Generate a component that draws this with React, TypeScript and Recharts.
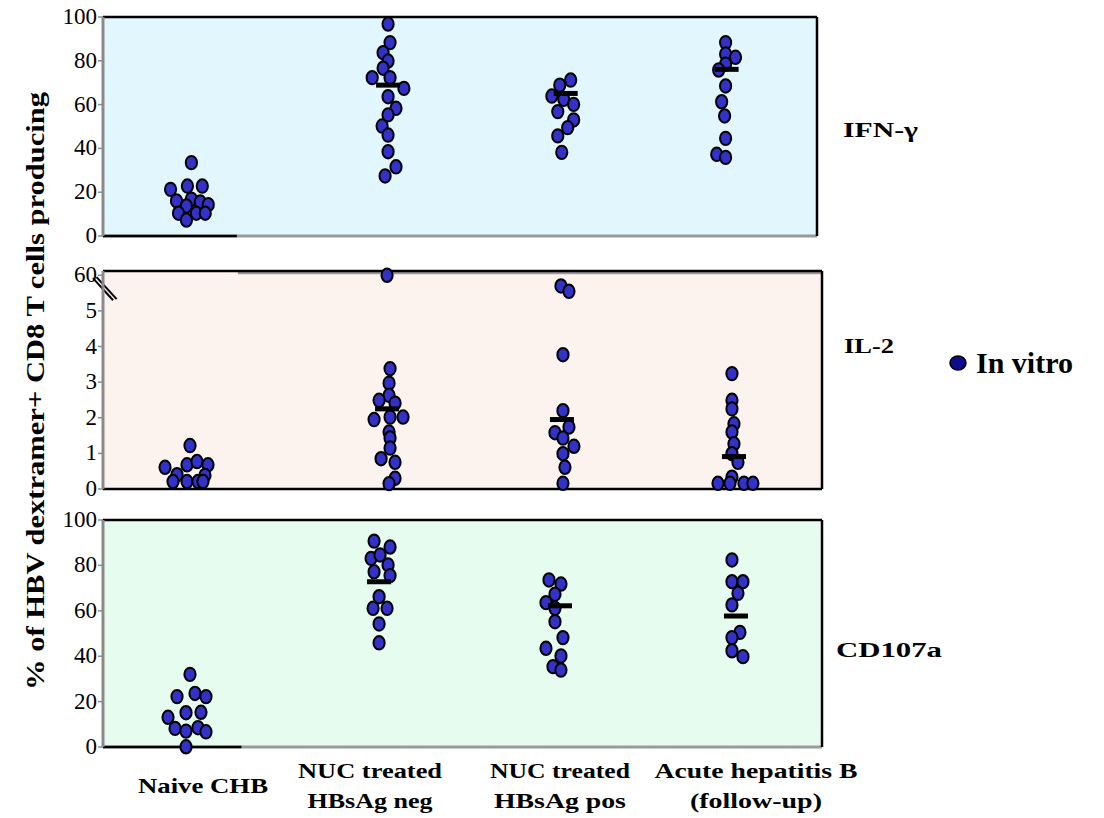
import React from 'react';
import { ScatterChart, Scatter, XAxis, YAxis, CartesianGrid, ReferenceLine } from 'recharts';

// categories (x positions in category units; the groups are not evenly spaced in the original)
const groupLabels = [['Naive CHB'], ['NUC treated', 'HBsAg neg'], ['NUC treated', 'HBsAg pos'], ['Acute  hepatitis B', '(follow-up)']];
const groupX = [0.484, 1.597, 2.57, 3.488];

// each point: [value, jitter] ; jitter is in 1/180 of a category
const ifnNaive = [[33.5, 2], [21.3, -19], [22.8, -2], [22.8, 13], [16.0, -13], [16.8, 2], [15.5, 11], [14.3, 19], [13.7, -3], [10.4, -11], [10.4, 7], [10.4, 16], [7.3, -3]];
const ifnNucNeg = [[96.8, 0], [88.3, 2], [83.7, -5], [79.9, 0], [76.6, -5], [72.3, -16], [72.3, 2], [67.4, 16], [63.6, 0], [58.3, 8], [55.3, 0], [50.2, -6], [46.1, 0], [38.5, 0], [31.6, 8], [27.4, -3]];
const ifnNucPos = [[71.2, 9], [68.9, -2], [63.9, -10], [62.4, 2], [60.1, 12], [56.8, -4], [53.0, 12], [49.5, 6], [45.7, -4], [38.2, 0]];
const ifnAcute = [[88.3, 0], [83.1, 0], [81.6, 10], [78.5, 0], [75.8, -7], [68.5, 0], [61.3, -4], [54.8, -1], [44.6, 0], [37.3, -9], [35.9, 0]];
const ifnMedian = [null, [68.9, 0], [65.1, 4], [76.1, 1]];

// IL-2 axis is broken: the top tick (6) is labelled 60
const il2Naive = [[1.22, 0], [0.61, -25], [0.68, -3], [0.77, 7], [0.68, 18], [0.40, -13], [0.38, 15], [0.21, -17], [0.21, -3], [0.21, 8], [0.21, 13]];
const il2NucNeg = [[6.0, -3], [3.38, 0], [2.97, -1], [2.63, -1], [2.49, -11], [2.41, 5], [1.95, -16], [2.02, 0], [2.02, 13], [1.60, -1], [1.43, 0], [1.15, 0], [0.85, -9], [0.75, 5], [0.30, 5], [0.15, -1]];
const il2NucPos = [[5.70, -4], [5.55, 4], [3.77, -2], [2.20, -2], [1.74, 4], [1.58, -10], [1.43, -2], [1.20, 9], [0.99, -2], [0.61, 0], [0.16, -2]];
const il2Acute = [[3.24, 2], [2.49, 2], [2.25, 2], [1.83, 4], [1.60, 2], [1.27, 4], [0.99, 2], [0.75, 8], [0.33, 2], [0.16, -12], [0.16, 0], [0.16, 14], [0.16, 23]];
const il2Median = [null, [2.25, -3], [1.95, -3], [0.91, 4]];
const il2Ticks = [0, 1, 2, 3, 4, 5, 6];
const il2TickLabels = ['0', '1', '2', '3', '4', '5', '60'];

const cdNaive = [[32.0, 0], [22.2, -13], [23.6, 5], [22.2, 16], [13.1, -22], [15.1, -4], [15.3, 11], [8.2, -15], [7.0, -4], [8.5, 8], [6.7, 16], [0.1, -4]];
const cdNucNeg = [[90.7, -16], [88.1, 0], [83.1, -19], [84.6, -10], [80.2, -2], [77.2, -16], [75.5, 0], [66.2, -11], [61.1, -17], [61.1, -3], [54.2, -11], [45.9, -11]];
const cdNucPos = [[73.6, -16], [71.8, -4], [67.3, -10], [63.6, -19], [61.1, -10], [55.2, -10], [48.2, -2], [43.5, -19], [40.1, -4], [35.4, -12], [33.9, -4]];
const cdAcute = [[82.4, 2], [72.8, 2], [72.8, 13], [67.7, 8], [62.6, 2], [50.5, 10], [48.2, 2], [42.4, 2], [39.8, 13]];
const cdMedian = [null, [72.8, -11], [62.2, -5], [57.7, 6]];

const pctTicks = [0, 20, 40, 60, 80, 100];

const FONT = 'Liberation Serif';

function toRows(groups: any[]) {
  const rows: { x: number; y: number }[] = [];
  groups.forEach((pts, g) => {
    if (!pts) return;
    const list = typeof pts[0] === 'number' ? [pts] : pts;
    list.forEach(([v, j]: number[]) => rows.push({ x: groupX[g] + j / 180, y: v }));
  });
  return rows;
}

const Dot = (props: any) => (
  <ellipse cx={props.cx} cy={props.cy} rx={5.6} ry={6.7} fill="#3232c8" stroke="#000" strokeWidth={2} />
);

const MedianBar = (props: any) => <rect x={props.cx - 12} y={props.cy - 2.5} width={24} height={5} fill="#000" />;

const labelShift = [13, -20, -5, 26];
const labelWidths = [[130], [144, 125], [140, 132], [203, 132]];

const GroupTick = (props: any) => {
  const { x, y, index } = props;
  const lines = groupLabels[index];
  const cx = x + labelShift[index];
  const base = lines.length === 1 ? [38] : [23, 53];
  return (
    <g>
      {lines.map((line, i) => (
        <text
          key={i}
          x={cx}
          y={y + base[i]}
          textAnchor="middle"
          fontFamily={FONT}
          fontWeight="bold"
          fontSize={22}
          fill="#000"
          textLength={labelWidths[index][i]}
          lengthAdjust="spacingAndGlyphs"
          style={{ fontFamily: FONT }}
        >
          {line}
        </text>
      ))}
    </g>
  );
};

const YTick = (props: any) => {
  const { x, y, payload, fmt } = props;
  const label = fmt ? fmt(payload.value) : String(payload.value);
  return (
    <text x={x} y={y} dy={7} textAnchor="end" fontSize={23} fill="#000" style={{ fontFamily: FONT }}>
      {label}
    </text>
  );
};

interface PanelProps {
  top: number;
  height: number;
  margin: { top: number; right: number; bottom: number; left: number };
  bg: string;
  yMax: number;
  ticks: number[];
  tickFormatter?: (v: number) => string;
  dots: { x: number; y: number }[];
  medians: { x: number; y: number }[];
  showX?: boolean;
  children?: React.ReactNode;
}

function Panel({ top, height, margin, bg, yMax, ticks, tickFormatter, dots, medians, showX, children }: PanelProps) {
  return (
    <div style={{ position: 'absolute', left: 0, top }}>
      <ScatterChart width={1104} height={height} margin={margin}>
        <CartesianGrid fill={bg} horizontal={false} vertical={false} stroke="none" />
        <XAxis
          type="number"
          dataKey="x"
          domain={[0, 4]}
          hide={!showX}
          ticks={groupX}
          interval={0}
          axisLine={false}
          tickLine={false}
          height={65}
          tick={<GroupTick />}
        />
        <YAxis
          type="number"
          dataKey="y"
          domain={[0, yMax]}
          ticks={ticks}
          interval={0}
          width={40}
          axisLine={{ stroke: '#8a8a8a', strokeWidth: 3 }}
          tickLine={{ stroke: '#8a8a8a', strokeWidth: 1.5 }}
          tickSize={5}
          tickMargin={1}
          tick={<YTick fmt={tickFormatter} />}
        />
        {children}
        <ReferenceLine y={yMax} stroke="#000" strokeWidth={2.5} />
        <ReferenceLine x={4} stroke="#000" strokeWidth={2.5} />
        <Scatter data={dots} shape={<Dot />} isAnimationActive={false} />
        <Scatter data={medians} shape={<MedianBar />} isAnimationActive={false} />
      </ScatterChart>
    </div>
  );
}

export default function App() {
  const il2Max = 6.12;
  return (
    <div style={{ position: 'absolute', left: 0, top: 0, width: 1104, height: 818, background: '#fff', fontFamily: FONT }}>
      <Panel
        top={0}
        height={262}
        margin={{ top: 17, right: 287, bottom: 26, left: 63 }}
        bg="#e1f7fd"
        yMax={100}
        ticks={pctTicks}
        dots={toRows([ifnNaive, ifnNucNeg, ifnNucPos, ifnAcute])}
        medians={toRows(ifnMedian)}
      >
        <ReferenceLine y={0} stroke="#9a9a9a" strokeWidth={3} />
        <ReferenceLine segment={[{ x: 0, y: 0 }, { x: 0.75, y: 0 }]} stroke="#000" strokeWidth={2.5} ifOverflow="visible" />
      </Panel>
      <Panel
        top={250}
        height={264}
        margin={{ top: 21, right: 282, bottom: 25, left: 63 }}
        bg="#fdf3ee"
        yMax={il2Max}
        ticks={il2Ticks}
        tickFormatter={(v: number) => il2TickLabels[il2Ticks.indexOf(v)]}
        dots={toRows([il2Naive, il2NucNeg, il2NucPos, il2Acute])}
        medians={toRows(il2Median)}
      >
        <ReferenceLine y={0} stroke="#000" strokeWidth={2.5} />
        <ReferenceLine segment={[{ x: 0.75, y: 6.07 }, { x: 4, y: 6.07 }]} stroke="#9a9a9a" strokeWidth={3} ifOverflow="visible" />
        <ReferenceLine segment={[{ x: -0.056, y: 5.92 }, { x: 0.056, y: 5.3 }]} stroke="#000" strokeWidth={2} ifOverflow="visible" />
        <ReferenceLine segment={[{ x: -0.036, y: 5.95 }, { x: 0.076, y: 5.33 }]} stroke="#000" strokeWidth={2} ifOverflow="visible" />
      </Panel>
      <Panel
        top={500}
        height={318}
        margin={{ top: 20, right: 282, bottom: 6, left: 63 }}
        bg="#e6fcee"
        yMax={100}
        ticks={pctTicks}
        dots={toRows([cdNaive, cdNucNeg, cdNucPos, cdAcute])}
        medians={toRows(cdMedian)}
        showX
      >
        <ReferenceLine y={0} stroke="#9a9a9a" strokeWidth={3} />
        <ReferenceLine segment={[{ x: 0, y: 0 }, { x: 0.77, y: 0 }]} stroke="#000" strokeWidth={2.5} ifOverflow="visible" />
      </Panel>
      <svg width={1104} height={818} style={{ position: 'absolute', left: 0, top: 0, pointerEvents: 'none', fontFamily: FONT }}>
        <text
          x={35}
          y={391}
          transform="rotate(-90, 35, 391)"
          textAnchor="middle"
          dominantBaseline="central"
          fontWeight="bold"
          fontSize={25}
          textLength={598}
          lengthAdjust="spacingAndGlyphs"
        >
          % of HBV dextramer+ CD8 T cells producing
        </text>
        <text x={843} y={137} fontWeight="bold" fontSize={21} textLength={75} lengthAdjust="spacingAndGlyphs">IFN-γ</text>
        <text x={844} y={353} fontWeight="bold" fontSize={21} textLength={50} lengthAdjust="spacingAndGlyphs">IL-2</text>
        <text x={836} y={657} fontWeight="bold" fontSize={21} textLength={106} lengthAdjust="spacingAndGlyphs">CD107a</text>
        <ellipse cx={958} cy={363} rx={8} ry={7} fill="#0c0c8c" stroke="#000" strokeWidth={1.5} />
        <text x={976} y={373} fontWeight="bold" fontSize={30}>In vitro</text>
      </svg>
    </div>
  );
}
